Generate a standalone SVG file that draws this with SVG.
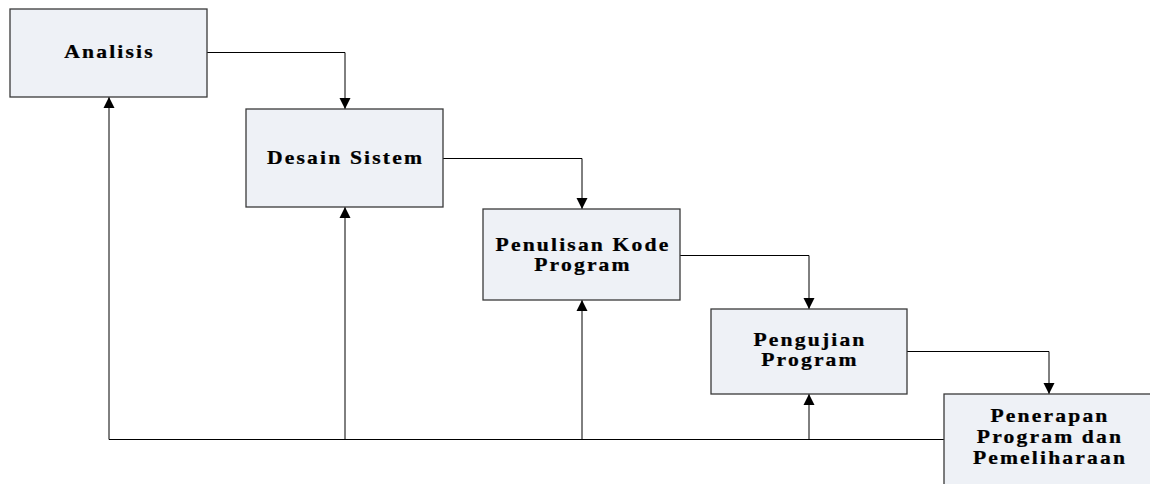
<svg xmlns="http://www.w3.org/2000/svg" width="1150" height="484" viewBox="0 0 1150 484">
<defs>
<marker id="arr" markerUnits="userSpaceOnUse" markerWidth="12" markerHeight="12" viewBox="0 0 12 12" refX="11" refY="6" orient="auto">
<path d="M0,0.5 L11,6 L0,11.5 Z" fill="#000"/>
</marker>
<style>
.box{fill:#EEF1F6;stroke:#3a3a3a;stroke-width:1.3}
.lbl{font-family:"Liberation Serif","Times New Roman",serif;font-weight:bold;font-size:18px;letter-spacing:1.8px;fill:#000;stroke:#000;stroke-width:0.25;text-anchor:middle}
.con{fill:none;stroke:#000;stroke-width:1}
</style>
</defs>
<rect width="1150" height="484" fill="#fff"/>
<g id="connectors">
<path class="con" d="M207,52.5 H345 V109" marker-end="url(#arr)"/>
<path class="con" d="M443,158.5 H582 V209" marker-end="url(#arr)"/>
<path class="con" d="M680,255.5 H809 V309" marker-end="url(#arr)"/>
<path class="con" d="M907,351.5 H1049 V394" marker-end="url(#arr)"/>
<path class="con" d="M944,439.5 H109 V97" marker-end="url(#arr)"/>
<path class="con" d="M345,439.5 V207" marker-end="url(#arr)"/>
<path class="con" d="M582,439.5 V300" marker-end="url(#arr)"/>
<path class="con" d="M809,439.5 V394" marker-end="url(#arr)"/>
</g>
<g id="analisis">
<rect class="box" x="10" y="9" width="197" height="88"/>
<text class="lbl" transform="translate(109.5,57.5) scale(1.2,1)">Analisis</text>
</g>
<g id="desain">
<rect class="box" x="246" y="109" width="197" height="98"/>
<text class="lbl" transform="translate(345.5,164) scale(1.2,1)">Desain Sistem</text>
</g>
<g id="penulisan">
<rect class="box" x="483" y="209" width="197" height="91"/>
<text class="lbl" transform="translate(583,251) scale(1.2,1)">Penulisan Kode</text>
<text class="lbl" transform="translate(583,271) scale(1.2,1)">Program</text>
</g>
<g id="pengujian">
<rect class="box" x="711" y="309" width="196" height="85"/>
<text class="lbl" transform="translate(810,346) scale(1.2,1)">Pengujian</text>
<text class="lbl" transform="translate(810,366) scale(1.2,1)">Program</text>
</g>
<g id="penerapan">
<rect class="box" x="944" y="394" width="215" height="100"/>
<text class="lbl" transform="translate(1050,422) scale(1.2,1)">Penerapan</text>
<text class="lbl" transform="translate(1050,443) scale(1.2,1)">Program dan</text>
<text class="lbl" transform="translate(1050,464) scale(1.2,1)">Pemeliharaan</text>
</g>
</svg>
